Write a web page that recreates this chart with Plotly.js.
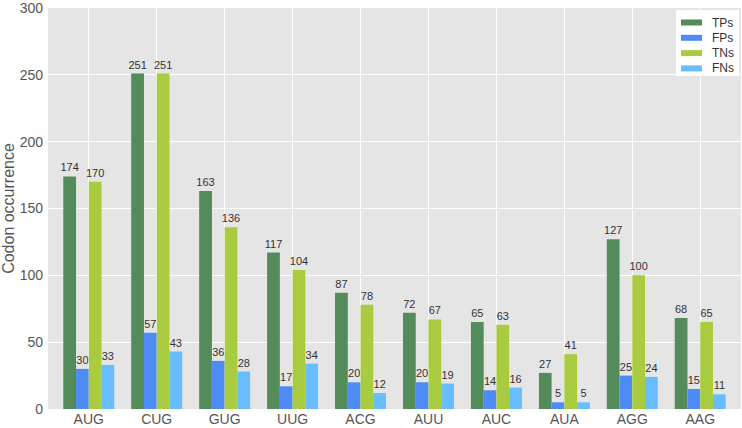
<!DOCTYPE html>
<html>
<head>
<meta charset="utf-8">
<script src="https://cdn.plot.ly/plotly-3.0.1.min.js"></script>
<style>
  body { margin: 0; background: white; }
  #plot { width: 742px; height: 428px; }
</style>
</head>
<body>
<div id="plot"></div>
<script>
const codons = ['AUG', 'CUG', 'GUG', 'UUG', 'ACG', 'AUU', 'AUC', 'AUA', 'AGG', 'AAG'];
const tps = [174, 251, 163, 117, 87, 72, 65, 27, 127, 68];
const fps = [30, 57, 36, 17, 20, 20, 14, 5, 25, 15];
const tns = [170, 251, 136, 104, 78, 67, 63, 41, 100, 65];
const fns = [33, 43, 28, 34, 12, 19, 16, 5, 24, 11];

const names = ['TPs', 'FPs', 'TNs', 'FNs'];
const colors = ['#548b5a', '#4f8bf7', '#a9cb3f', '#67bdff'];
const series = [tps, fps, tns, fns];

const W = 742, H = 428;
const margin = { l: 48, r: 1, t: 8, b: 19 };
const pw = W - margin.l - margin.r;
const ph = H - margin.t - margin.b;
// pixel -> paper helpers, only for the hand drawn legend box
const px = (x) => (x - margin.l) / pw;
const py = (y) => 1 - (y - margin.t) / ph;

const data = series.map((vals, i) => ({
  type: 'bar',
  name: names[i],
  x: codons,
  y: vals,
  marker: { color: colors[i], line: { width: 0 } },
  text: vals.map(String),
  textposition: 'outside',
  constraintext: 'none',
  cliponaxis: false,
  textfont: { family: 'Liberation Sans, Arial', size: 11, color: '#333333' },
  hoverinfo: 'x+y'
}));

// legend like matplotlib: white box, wide patches
const shapes = [{
  type: 'rect', xref: 'paper', yref: 'paper',
  x0: px(676), x1: px(739), y0: py(76), y1: py(10),
  fillcolor: 'white', line: { width: 0 }, layer: 'above'
}];
const annotations = [];
names.forEach((n, i) => {
  const cy = 22.5 + i * 15.3;
  shapes.push({
    type: 'rect', xref: 'paper', yref: 'paper',
    x0: px(681), x1: px(702), y0: py(cy + 3), y1: py(cy - 3),
    fillcolor: colors[i], line: { width: 0 }, layer: 'above'
  });
  annotations.push({
    xref: 'paper', yref: 'paper', x: px(710), y: py(cy),
    xanchor: 'left', yanchor: 'middle', showarrow: false,
    text: n, font: { size: 12, color: '#333333' }
  });
});

const layout = {
  width: W,
  height: H,
  margin: margin,
  paper_bgcolor: 'white',
  plot_bgcolor: '#e5e5e5',
  barmode: 'group',
  bargap: 0.25,
  bargroupgap: 0,
  showlegend: false,
  font: { family: 'Liberation Sans, Arial', size: 14, color: '#555555' },
  xaxis: {
    range: [-0.6, 9.6],
    showgrid: true,
    gridcolor: 'white',
    gridwidth: 1,
    ticks: '',
    tickfont: { size: 14, color: '#555555' },
    zeroline: false,
    showline: false
  },
  yaxis: {
    range: [0, 300],
    dtick: 50,
    showgrid: true,
    gridcolor: 'white',
    gridwidth: 1,
    ticks: '',
    ticklabelstandoff: 4,
    ticklabeloverflow: 'allow',
    tickfont: { size: 14, color: '#555555' },
    zeroline: false,
    title: { text: 'Codon occurrence', font: { size: 16, color: '#555555' }, standoff: 2 }
  },
  shapes: shapes,
  annotations: annotations
};

Plotly.newPlot('plot', data, layout, { displayModeBar: false, staticPlot: true });
</script>
</body>
</html>
